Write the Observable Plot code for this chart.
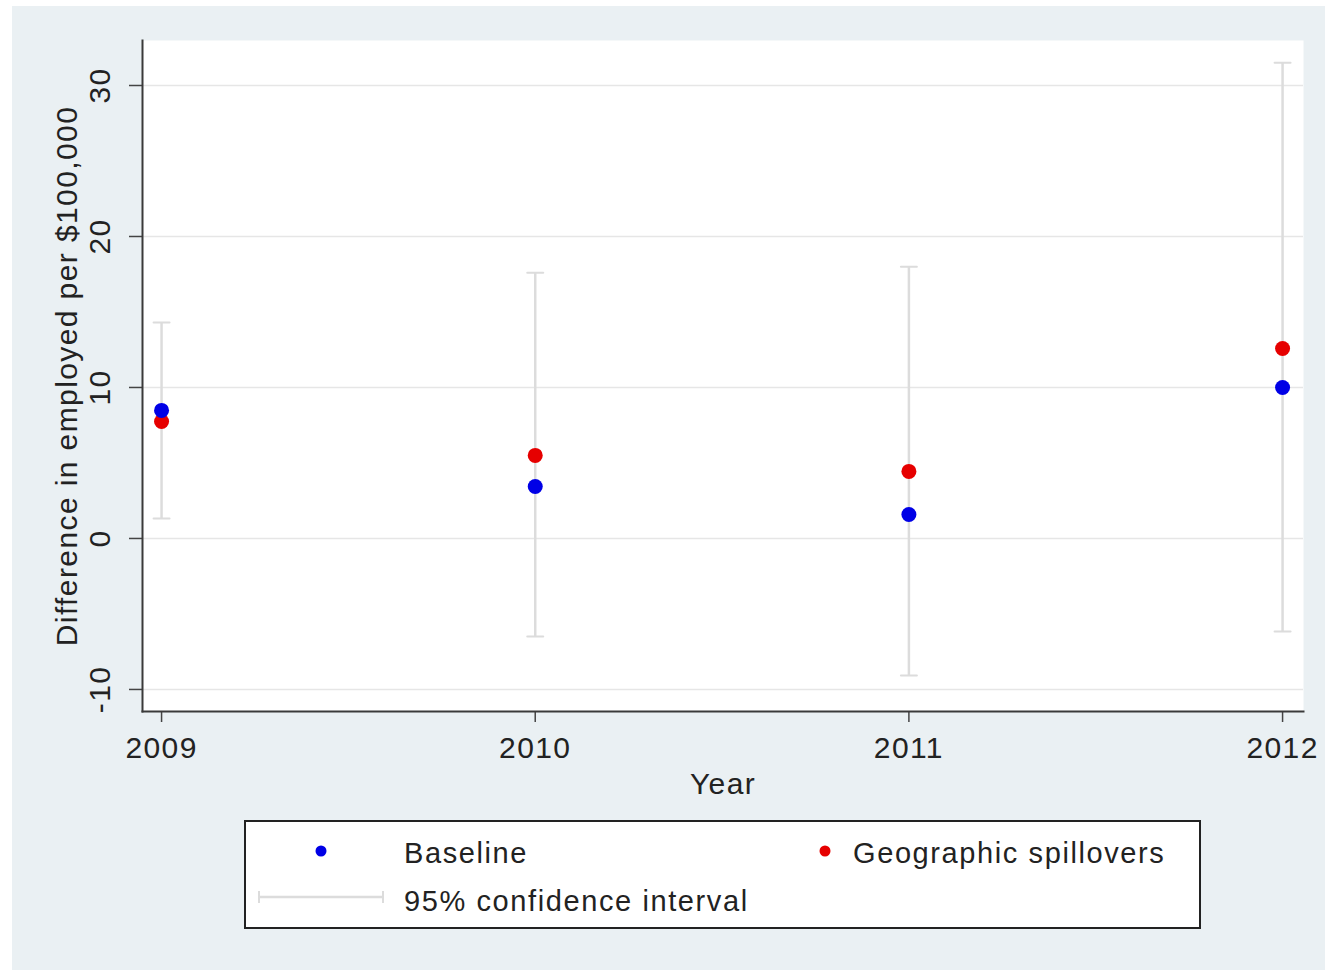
<!DOCTYPE html>
<html><head><meta charset="utf-8">
<script src="https://cdn.jsdelivr.net/npm/d3@7"></script>
<script src="https://cdn.jsdelivr.net/npm/@observablehq/plot@0.6"></script>
<style>
body{margin:0;background:#fff;font-family:"Liberation Sans",Arial,sans-serif;}
#bg{position:absolute;left:12px;top:6px;width:1313px;height:964px;background:#eaf0f3;}
#chart{position:absolute;left:0;top:0;}
#legend{position:absolute;left:232px;top:814px;}
#chart svg text{letter-spacing:1.4px;}
#legend svg text{letter-spacing:1.6px;}
</style></head><body>
<div id="bg"><div id="chart"></div><div id="legend"></div></div>
<script>
const years = [2009, 2010, 2011, 2012];
const baseline = [8.48, 3.44, 1.59, 10.0];
const spillovers = [7.75, 5.5, 4.44, 12.58];
const ciLow = [1.32, -6.5, -9.07, -6.16];
const ciHigh = [14.3, 17.6, 18.0, 31.5];
const yTicks = [-10, 0, 10, 20, 30];
const seriesNames = ["Baseline", "Geographic spillovers", "95% confidence interval"];
const seriesColors = ["#0000e6", "#e60000", "#dcdcdc"];
const xLabel = "Year";
const yLabel = "Difference in employed per $100,000";

const rows = years.map((y, i) => ({year: y, base: baseline[i], spill: spillovers[i], lo: ciLow[i], hi: ciHigh[i]}));

const capShape = {draw(context, l) { context.moveTo(-l / 2, 0); context.lineTo(l / 2, 0); }};

const chart = Plot.plot({
  width: 1313,
  height: 800,
  marginLeft: 130,
  marginRight: 22,
  marginTop: 34,
  marginBottom: 95,
  style: {fontFamily: "'Liberation Sans', Arial, sans-serif", fontSize: "30px", background: "transparent", color: "#222", overflow: "visible"},
  x: {domain: [2008.949, 2012.056], label: xLabel},
  y: {domain: [-11.46, 32.98], label: yLabel},
  marks: [
    Plot.frame({fill: "white", stroke: null}),
    Plot.gridY(yTicks, {stroke: "#e6e6e6", strokeOpacity: 1, strokeWidth: 1.5}),
    Plot.ruleX(rows, {x: "year", y1: "lo", y2: "hi", stroke: seriesColors[2], strokeWidth: 2.5}),
    Plot.vector(rows, {x: "year", y: "hi", length: 16, anchor: "start", shape: capShape, stroke: seriesColors[2], strokeWidth: 2}),
    Plot.vector(rows, {x: "year", y: "lo", length: 16, anchor: "start", shape: capShape, stroke: seriesColors[2], strokeWidth: 2}),
    Plot.dot(rows, {x: "year", y: "spill", r: 7.5, fill: seriesColors[1]}),
    Plot.dot(rows, {x: "year", y: "base", r: 7.5, fill: seriesColors[0]}),
    Plot.axisY(yTicks, {tickSize: 13, tickPadding: 20, tickRotate: -90, tickFormat: d => String(d), stroke: "#444", strokeWidth: 1.5, label: yLabel, labelArrow: "none", labelAnchor: "center", labelOffset: 87, fontSize: 30}),
    Plot.axisX(years, {tickSize: 11, tickPadding: 14, tickFormat: d => String(d), stroke: "#444", strokeWidth: 1.5, label: xLabel, labelArrow: "none", labelAnchor: "center", labelOffset: 82, fontSize: 30}),
    Plot.frame({anchor: "left", stroke: "#3a3a3a", strokeWidth: 2}),
    Plot.frame({anchor: "bottom", stroke: "#3a3a3a", strokeWidth: 2})
  ]
});
document.getElementById("chart").appendChild(chart);

// Legend
const lg = d3.select("#legend").append("svg").attr("width", 958).attr("height", 110)
  .style("font-family", "'Liberation Sans', Arial, sans-serif");
lg.append("rect").attr("x", 1).attr("y", 1).attr("width", 955).attr("height", 107)
  .attr("fill", "white").attr("stroke", "#222").attr("stroke-width", 2);
lg.append("circle").attr("cx", 77).attr("cy", 31).attr("r", 5.5).attr("fill", seriesColors[0]);
lg.append("text").attr("x", 160).attr("y", 43).attr("font-size", 29).attr("fill", "#222").text(seriesNames[0]);
lg.append("circle").attr("cx", 581).attr("cy", 31).attr("r", 5.5).attr("fill", seriesColors[1]);
lg.append("text").attr("x", 609).attr("y", 43).attr("font-size", 29).attr("fill", "#222").text(seriesNames[1]);
lg.append("line").attr("x1", 14).attr("x2", 140).attr("y1", 77).attr("y2", 77).attr("stroke", seriesColors[2]).attr("stroke-width", 2.5);
lg.append("line").attr("x1", 15).attr("x2", 15).attr("y1", 71).attr("y2", 83).attr("stroke", seriesColors[2]).attr("stroke-width", 2);
lg.append("line").attr("x1", 139).attr("x2", 139).attr("y1", 71).attr("y2", 83).attr("stroke", seriesColors[2]).attr("stroke-width", 2);
lg.append("text").attr("x", 160).attr("y", 91).attr("font-size", 29).attr("fill", "#222").text(seriesNames[2]);
</script></body></html>
